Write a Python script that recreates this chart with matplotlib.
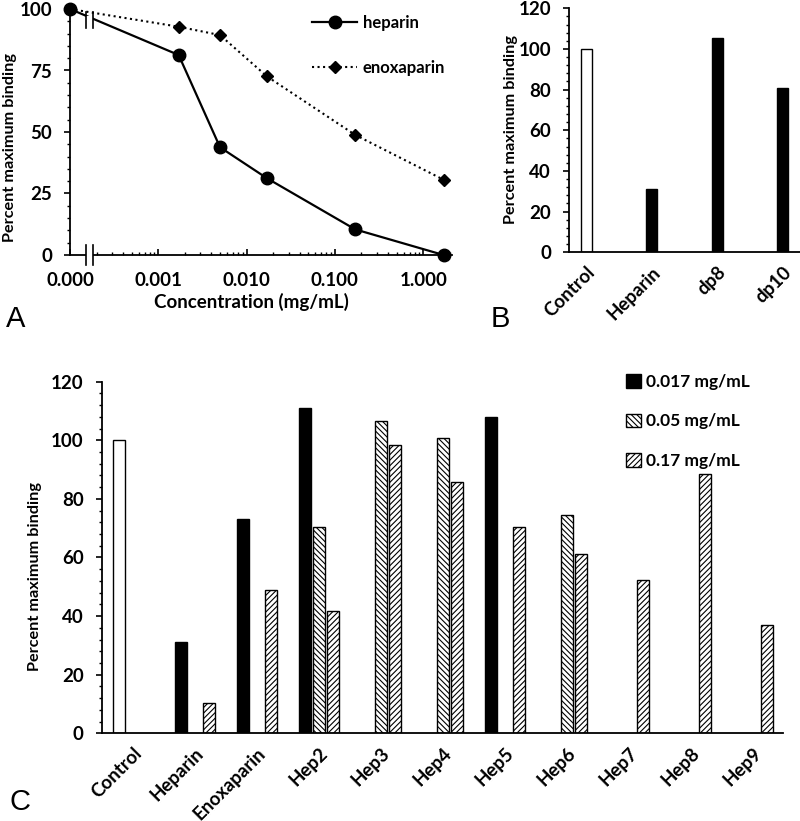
import matplotlib
matplotlib.use('Agg')
import matplotlib.pyplot as plt
from matplotlib.ticker import MultipleLocator, FixedLocator, LogLocator, NullFormatter
import numpy as np

plt.rcParams['font.family'] = ['Lato', 'DejaVu Sans']
plt.rcParams['font.weight'] = 'bold'
plt.rcParams['axes.labelweight'] = 'bold'
plt.rcParams['hatch.linewidth'] = 0.8

# panel A data
conc = [0, 0.0017, 0.005, 0.017, 0.17, 1.7]
heparin = [100, 81.3, 43.8, 31.2, 10.4, 0]
enoxaparin = [100, 92.8, 89.4, 72.6, 48.8, 30.6]
conc_ticks = [0.0001, 0.001, 0.01, 0.1, 1]
conc_labels = ['0.000', '0.001', '0.010', '0.100', '1.000']

# panel B data
b_names = ['Control', 'Heparin', 'dp8', 'dp10']
b_values = [100, 31.0, 105.6, 80.8]

# panel C data (Control sits in the first slot)
c_names = ['Control', 'Heparin', 'Enoxaparin', 'Hep2', 'Hep3', 'Hep4', 'Hep5',
           'Hep6', 'Hep7', 'Hep8', 'Hep9']
nan = np.nan
c_0017 = [100, 31.3, 73.0, 111.0, nan, nan, 108.1, nan, nan, nan, nan]
c_005 = [nan, nan, nan, 70.5, 106.5, 100.8, nan, 74.4, nan, nan, nan]
c_017 = [nan, 10.2, 49.0, 41.9, 98.3, 85.7, 70.4, 61.1, 52.3, 88.5, 37.0]

W, H = 800, 821
TICK = 13.5
fig = plt.figure(figsize=(8, 8.21), dpi=100)


def box(l, t, r, b):
    return [l / W, 1 - b / H, (r - l) / W, (b - t) / H]


def style(ax, major, minor):
    for s in ['top', 'right']:
        ax.spines[s].set_visible(False)
    for s in ['left', 'bottom']:
        ax.spines[s].set_linewidth(1.3)
    ax.yaxis.set_major_locator(MultipleLocator(major))
    ax.yaxis.set_minor_locator(MultipleLocator(minor))
    ax.tick_params(axis='y', which='major', direction='out', length=4, width=1.2,
                   pad=9, labelsize=TICK)
    ax.tick_params(axis='y', which='minor', direction='out', length=2.5, width=1.0)


# ---- A ----
axA = fig.add_axes(box(70, 9, 452, 255))
xp = [c if c > 0 else 1e-4 for c in conc]
l2, = axA.plot(xp, enoxaparin, linestyle=':', marker='D', color='black', lw=1.5,
               ms=6, clip_on=False, zorder=3, label='enoxaparin')
l1, = axA.plot(xp, heparin, linestyle='-', marker='o', color='black', lw=1.6,
               ms=9, clip_on=False, zorder=4, label='heparin')
axA.set_xscale('log')
axA.set_xlim(1e-4, 10 ** 0.326)
axA.set_ylim(0, 100)
style(axA, 25, 5)
axA.xaxis.set_major_locator(FixedLocator(conc_ticks))
axA.set_xticklabels(conc_labels)
axA.xaxis.set_minor_locator(LogLocator(base=10, subs=np.arange(2, 10)))
axA.xaxis.set_minor_formatter(NullFormatter())
axA.tick_params(axis='x', which='major', direction='in', length=4, width=1.2,
                pad=12, labelsize=TICK)
axA.tick_params(axis='x', which='minor', direction='in', length=2.5, width=1.0)
fig.text(251 / W, 1 - 302 / H, 'Concentration (mg/mL)', ha='center', va='center',
         fontsize=13.5)

# axis break marks
xb1, xb2 = 10 ** (-4 + 16 / 88.3), 10 ** (-4 + 23 / 88.3)
for y0, y1 in [(-4, 4), (92.3, 98.8)]:
    axA.fill_between([xb1, xb2], y0 + 1.5, y1 - 1.5, color='white', zorder=5,
                     clip_on=False, lw=0)
    for xb in (xb1, xb2):
        axA.plot([xb, xb], [y0, y1], color='black', lw=1.2, zorder=6, clip_on=False)

axA.legend(handles=[l1, l2], loc='upper left', bbox_to_anchor=(312 / W, 1 - 15 / H),
           bbox_transform=fig.transFigure, frameon=False, handlelength=2.7,
           handletextpad=0.35, labelspacing=1.75, borderpad=0, borderaxespad=0,
           fontsize=12)

fig.text(10 / W, 1 - 147 / H, 'Percent maximum binding', rotation=90,
         ha='center', va='center', fontsize=11.7)

# ---- B ----
axB = fig.add_axes(box(569, 8.3, 800, 252.3))
xb = np.arange(len(b_names))
axB.bar(xb, b_values, width=0.168, color=['white', 'black', 'black', 'black'],
        edgecolor='black', linewidth=1.0)
axB.set_xlim(-0.267, 3.26)
axB.set_ylim(0, 120)
style(axB, 20, 4)
axB.set_xticks(xb)
axB.set_xticklabels(b_names, rotation=45, ha='right', rotation_mode='anchor')
axB.tick_params(axis='x', length=0, pad=8, labelsize=TICK)
fig.text(511 / W, 1 - 129 / H, 'Percent maximum binding', rotation=90,
         ha='center', va='center', fontsize=11.7)

# ---- C ----
axC = fig.add_axes(box(101.7, 381.7, 783, 733.3))
xc = np.arange(len(c_names))
off, bw = 0.226, 0.194
b1 = axC.bar(xc - off, c_0017, width=bw, color='black', edgecolor='black',
             linewidth=1.0, label='0.017 mg/mL')
b1.patches[0].set_facecolor('white')
axC.bar(xc, c_005, width=bw, color='white', edgecolor='black', hatch='\\\\\\\\\\\\',
        linewidth=1.0, label='0.05 mg/mL')
axC.bar(xc + off, c_017, width=bw, color='white', edgecolor='black', hatch='//////',
        linewidth=1.0, label='0.17 mg/mL')
axC.set_xlim(-0.505, 10.484)
axC.set_ylim(0, 120)
style(axC, 20, 4)
axC.set_xticks(xc)
axC.set_xticklabels(c_names, rotation=45, ha='right', rotation_mode='anchor')
axC.tick_params(axis='x', length=0, pad=8, labelsize=TICK)
fig.text(35 / W, 1 - 576 / H, 'Percent maximum binding', rotation=90,
         ha='center', va='center', fontsize=11.7)

legC = axC.legend(loc='upper left', bbox_to_anchor=(626 / W, 1 - 374 / H),
                  bbox_transform=fig.transFigure, frameon=False, handlelength=0.85,
                  handleheight=0.85, handletextpad=0.3, labelspacing=1.35,
                  borderpad=0, borderaxespad=0, fontsize=12.5)
legC.legend_handles[0].set_facecolor('black')

# panel letters
for lab, x, y in [('A', 16, 319), ('B', 500, 319), ('C', 20, 802)]:
    fig.text(x / W, 1 - y / H, lab, ha='center', va='center', fontsize=21,
             fontweight='normal', family='Liberation Sans')

fig.savefig('out.png', dpi=100)
